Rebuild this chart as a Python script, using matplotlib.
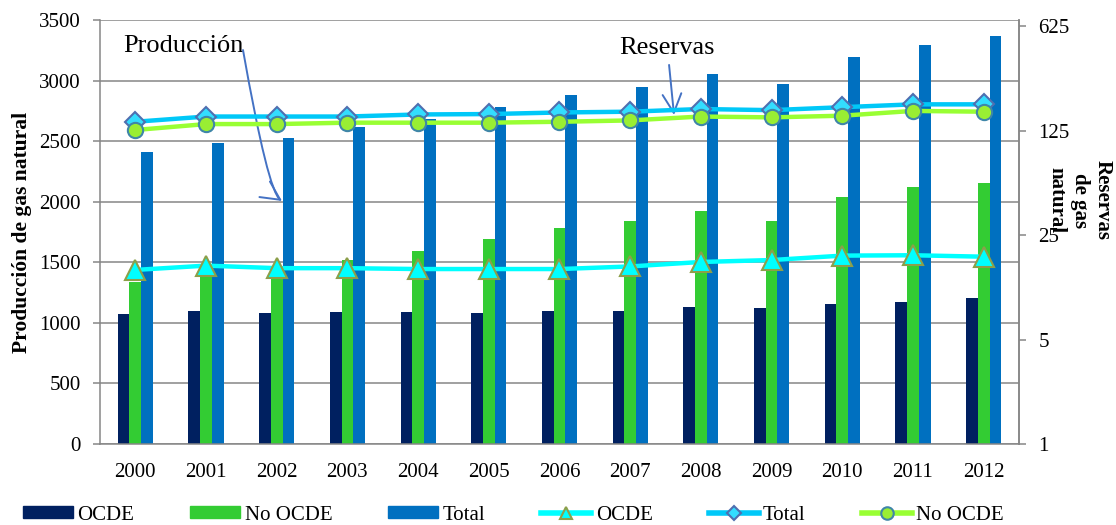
import matplotlib.pyplot as plt
import numpy as np
from matplotlib.lines import Line2D
from matplotlib.patches import Patch

plt.rcParams['font.family'] = ['Liberation Serif', 'DejaVu Serif']

years = ['2000', '2001', '2002', '2003', '2004', '2005', '2006',
         '2007', '2008', '2009', '2010', '2011', '2012']

# produccion de gas natural (barras, eje izquierdo)
prod_ocde = [1070, 1095, 1084, 1090, 1090, 1079, 1095, 1095, 1131, 1125, 1153, 1170, 1208]
prod_no_ocde = [1335, 1381, 1430, 1522, 1596, 1695, 1783, 1843, 1921, 1840, 2039, 2119, 2155]
prod_total = [2413, 2482, 2526, 2619, 2685, 2782, 2884, 2947, 3057, 2972, 3195, 3297, 3371]

# reservas de gas natural (lineas, eje derecho logaritmico)
res_ocde = [14.6, 15.6, 15.0, 15.0, 14.8, 14.8, 14.8, 15.4, 16.5, 17.0, 18.2, 18.3, 17.9]
res_total = [143, 155, 155, 155, 160, 161, 165, 167, 174, 171, 179, 187, 187]
res_no_ocde = [126, 138, 138, 141, 141, 141, 143, 146, 155, 153, 157, 169, 167]

grey = '#868686'
x = np.arange(len(years))
w = 0.166

fig = plt.figure(figsize=(11.16, 5.25), dpi=100)
ax = fig.add_axes([100 / 1116, 1 - 444 / 525, 919 / 1116, 424 / 525])

ax.bar(x - w, prod_ocde, w, color='#002060')
ax.bar(x, prod_no_ocde, w, color='#33CC33')
ax.bar(x + w, prod_total, w, color='#0070C0')

ax.set_xlim(-0.5, len(years) - 0.5)
ax.set_ylim(0, 3500)
ax.set_yticks(range(0, 3501, 500))
ax.set_xticks(x)
ax.set_xticklabels(years)
ax.set_axisbelow(True)
ax.yaxis.grid(True, color=grey, linewidth=1.1)
ax.tick_params(axis='y', length=5, width=1.1, color=grey, pad=9, labelsize=15)
ax.tick_params(axis='x', length=0, pad=14, labelsize=15)
ax.spines['top'].set_visible(False)
for s in ['left', 'bottom', 'right']:
    ax.spines[s].set_color(grey)
    ax.spines[s].set_linewidth(1.1)
ax.set_ylabel('Producción de gas natural', fontsize=15.5, fontweight='bold')
ax.yaxis.set_label_coords(-0.074, 0.5)

ax2 = ax.twinx()
ax2.set_yscale('log', base=5)
ax2.plot(x, res_ocde, color='#00FFFF', lw=3.2, marker='^', ms=14,
         mfc='#00FFFF', mec='#8C9F4A', mew=1.5)
ax2.plot(x, res_total, color='#00C8F8', lw=3.2, marker='D', ms=10,
         mfc='#33DDFF', mec='#4F6FB0', mew=1.5)
ax2.plot(x, res_no_ocde, color='#99FF33', lw=3.2, marker='o', ms=11,
         mfc='#99EE33', mec='#3F86A8', mew=1.5)
ax2.set_ylim(1, 5 ** (424 / 104.5))
ax2.set_yticks([1, 5, 25, 125, 625])
ax2.set_yticklabels(['1', '5', '25', '125', '625'])
ax2.yaxis.set_minor_locator(plt.NullLocator())
ax2.tick_params(axis='y', length=5, width=1.1, color=grey, pad=9, labelsize=15)
for s in ['top', 'left', 'bottom']:
    ax2.spines[s].set_visible(False)
ax2.spines['right'].set_color(grey)
ax2.spines['right'].set_linewidth(1.1)
ax2.text(1.066, 0.575, 'Reservas\nde gas\nnatural', transform=ax2.transAxes,
         rotation=270, ha='center', va='center', fontsize=15, fontweight='bold')

# notas con flecha
arrow_c = '#4472C4'
ax.text(0.674, 3285, 'Producción', fontsize=19, ha='center', va='center')
ax.annotate('', xy=(2.075, 2006), xytext=(1.523, 3252),
            arrowprops=dict(arrowstyle='->,head_length=0.9,head_width=0.45',
                            mutation_scale=15, color=arrow_c, lw=1.4,
                            connectionstyle='angle3,angleA=-80,angleB=-34',
                            shrinkA=0, shrinkB=0))
ax.text(7.52, 3270, 'Reservas', fontsize=19, ha='center', va='center')
ax.annotate('', xy=(7.62, 2716), xytext=(7.55, 3129),
            arrowprops=dict(arrowstyle='->,head_length=0.9,head_width=0.45',
                            mutation_scale=15, color=arrow_c, lw=1.4,
                            shrinkA=0, shrinkB=0))

handles = [
    Patch(color='#002060', label='OCDE'),
    Patch(color='#33CC33', label='No OCDE'),
    Patch(color='#0070C0', label='Total'),
    Line2D([], [], color='#00FFFF', lw=4, marker='^', ms=9, mfc='#00FFFF',
           mec='#8C9F4A', mew=1.5, label='OCDE'),
    Line2D([], [], color='#00C8F8', lw=4, marker='D', ms=7, mfc='#33DDFF',
           mec='#4F6FB0', mew=1.5, label='Total'),
    Line2D([], [], color='#99FF33', lw=4, marker='o', ms=9, mfc='#99EE33',
           mec='#3F86A8', mew=1.5, label='No OCDE'),
]
fig.legend(handles=handles, loc='lower center', bbox_to_anchor=(0.46, -0.035),
           ncol=6, frameon=False, fontsize=15, handlelength=2.4,
           handleheight=0.5, handletextpad=0.2, columnspacing=2.7)

fig.savefig('out.png', dpi=100)
